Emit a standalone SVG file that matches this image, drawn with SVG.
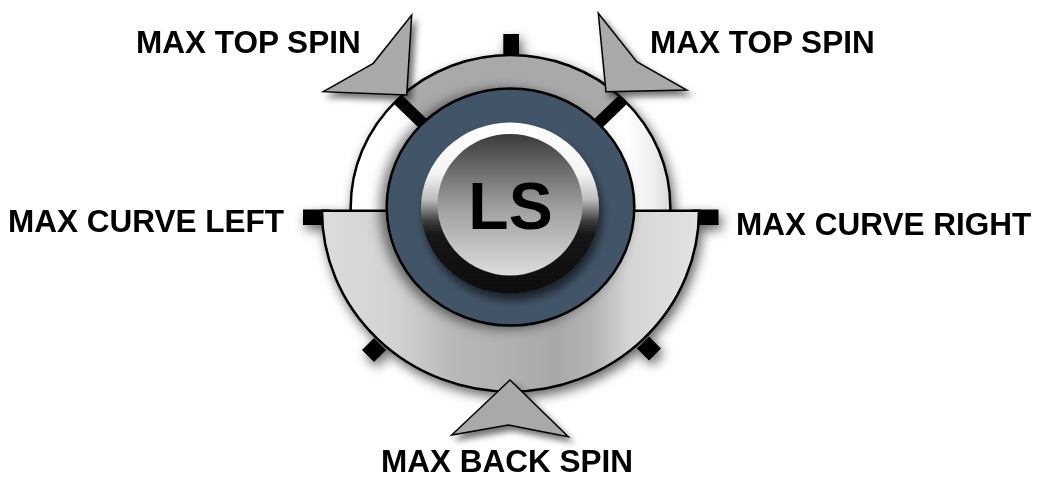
<svg xmlns="http://www.w3.org/2000/svg" width="1039" height="479" viewBox="0 0 1039 479">
<defs>
<style>
.lbl{font-family:"Liberation Sans",Arial,sans-serif;font-weight:bold;font-size:31.5px;fill:#000}
.tick{fill:#000}
.arrow{fill:#a9a9a9;stroke:#000;stroke-width:1.5;stroke-linejoin:miter}
</style>
<filter id="dialShadow" x="-20%" y="-20%" width="140%" height="140%"><feDropShadow dx="3" dy="5" stdDeviation="6" flood-color="#000" flood-opacity="0.6"/></filter>
<filter id="blueShadow" x="-20%" y="-20%" width="140%" height="140%"><feDropShadow dx="-6" dy="2" stdDeviation="6" flood-color="#000" flood-opacity="0.5"/></filter>
<filter id="ringShadow" x="-20%" y="-20%" width="140%" height="140%"><feDropShadow dx="3" dy="7" stdDeviation="5" flood-color="#000" flood-opacity="0.6"/></filter>
<filter id="arrowShadow" x="-30%" y="-30%" width="160%" height="160%"><feDropShadow dx="4" dy="5" stdDeviation="3" flood-color="#000" flood-opacity="0.55"/></filter>
<linearGradient id="lowerGrad" gradientUnits="userSpaceOnUse" x1="322" y1="0" x2="699" y2="0">
<stop offset="0" stop-color="#dcdcdc"/><stop offset="0.2" stop-color="#d2d2d2"/><stop offset="0.35" stop-color="#b8b8b8"/><stop offset="0.5" stop-color="#b1b1b1"/><stop offset="0.62" stop-color="#a8a8a8"/><stop offset="0.72" stop-color="#b5b5b5"/><stop offset="0.82" stop-color="#d6d6d6"/><stop offset="1" stop-color="#e2e2e2"/>
</linearGradient>
<linearGradient id="upperGrad" gradientUnits="userSpaceOnUse" x1="350" y1="0" x2="672" y2="0">
<stop offset="0" stop-color="#ffffff"/><stop offset="0.86" stop-color="#ffffff"/><stop offset="0.94" stop-color="#efefef"/><stop offset="1" stop-color="#d6d6d6"/>
</linearGradient>
<linearGradient id="ringGrad" x1="0" y1="0" x2="0" y2="1">
<stop offset="0" stop-color="#ffffff"/><stop offset="0.3" stop-color="#f4f4f4"/><stop offset="0.45" stop-color="#bdbdbd"/><stop offset="0.58" stop-color="#3a3a3a"/><stop offset="0.66" stop-color="#121212"/><stop offset="1" stop-color="#111111"/>
</linearGradient>
<linearGradient id="faceGrad" x1="0" y1="0" x2="0" y2="1">
<stop offset="0" stop-color="#3a3a3a"/><stop offset="0.5" stop-color="#9c9c9c"/><stop offset="1" stop-color="#dcdcdc"/>
</linearGradient>
<clipPath id="upperClip"><ellipse cx="510.5" cy="207" rx="159.8" ry="152"/></clipPath>
</defs>

<g id="dial" filter="url(#dialShadow)">
  <rect class="tick" x="503.3" y="34" width="15.7" height="25"/>
  <rect class="tick" x="303" y="209.5" width="27" height="15.5"/>
  <rect class="tick" x="692" y="209.5" width="26.5" height="15.5"/>
  <rect class="tick" x="365.5" y="341.5" width="17" height="17" transform="rotate(45 374 350)"/>
  <rect class="tick" x="640.5" y="340" width="17" height="17" transform="rotate(-45 649 348.5)"/>
  <path d="M350.7,210.7 L350.7,207 A159.8 152 0 0 1 670.3,207 L670.3,210.7 Z" fill="url(#upperGrad)"/>
  <path d="M510.5,207 L397.5,99.5 A159.8 152 0 0 1 623.5,99.5 Z" fill="#a9a9a9"/>
  <path d="M350.7,210.7 L350.7,207 A159.8 152 0 0 1 670.3,207 L670.3,210.7" fill="none" stroke="#000" stroke-width="2.5"/>
  <path d="M322,210.7 L699,210.7 A188.5 180.8 0 0 1 322,210.7 Z" fill="url(#lowerGrad)" stroke="#000" stroke-width="2.5"/>
  <g clip-path="url(#upperClip)" stroke="#000" stroke-width="12">
    <line x1="440" y1="140" x2="385" y2="87"/>
    <line x1="581" y1="140" x2="636" y2="87"/>
  </g>
</g>

<g id="knob">
  <ellipse cx="510.5" cy="207" rx="123.8" ry="118.6" fill="#435468" stroke="#000" stroke-width="2.5" filter="url(#blueShadow)"/>
  <ellipse cx="510" cy="208" rx="89" ry="85.5" fill="url(#ringGrad)" filter="url(#ringShadow)"/>
  <ellipse cx="510" cy="204.7" rx="72.5" ry="70.8" fill="url(#faceGrad)"/>
  <text x="510.5" y="229.3" text-anchor="middle" style="font-family:'Liberation Sans',Arial,sans-serif;font-weight:bold;font-size:66px;fill:#000">LS</text>
</g>

<g id="arrow-top-left" filter="url(#arrowShadow)">
  <polygon class="arrow" points="411.7,15 406.7,95 323.3,91.7 373.3,63.3"/>
</g>
<g id="arrow-top-right" filter="url(#arrowShadow)">
  <polygon class="arrow" points="598.3,13.3 606,91.7 686.7,90 636.7,61.7"/>
</g>
<g id="arrow-bottom" filter="url(#arrowShadow)">
  <polygon class="arrow" points="510,380 568.3,436.7 508.3,425 451.7,435"/>
</g>

<g id="label-top-left"><text class="lbl" x="136" y="53.3">MAX TOP SPIN</text></g>
<g id="label-top-right"><text class="lbl" x="650" y="53.3">MAX TOP SPIN</text></g>
<g id="label-left"><text class="lbl" x="8" y="232">MAX CURVE LEFT</text></g>
<g id="label-right"><text class="lbl" x="736" y="235">MAX CURVE RIGHT</text></g>
<g id="label-bottom"><text class="lbl" x="381" y="472">MAX BACK SPIN</text></g>
</svg>
